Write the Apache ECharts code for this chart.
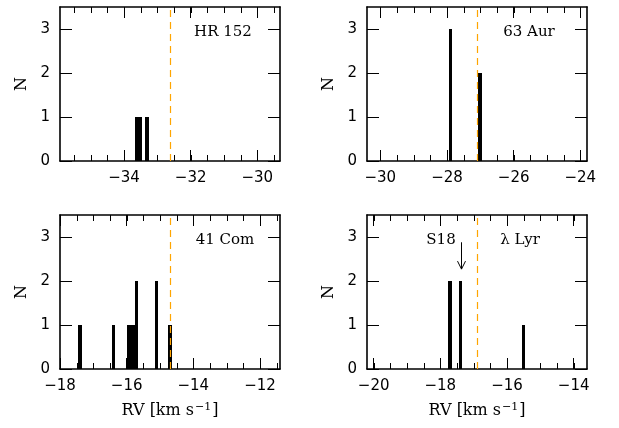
<!DOCTYPE html>
<html><head><meta charset="utf-8">
<script src="https://cdn.jsdelivr.net/npm/echarts@6/dist/echarts.min.js"></script>
<style>html,body{margin:0;padding:0;background:#fff}#c{width:619px;height:428px}</style>
</head><body><div id="c"></div>
<script>
// ---- data ----
const panelNames = ['HR 152', '63 Aur', '41 Com', 'λ Lyr'];
const binCenters1 = [-33.62, -33.51, -33.31];
const binCounts1  = [1, 1, 1];
const binCenters2 = [-27.90, -27.00];
const binCounts2  = [3, 2];
const binCenters3 = [-17.41, -16.40, -15.93, -15.82, -15.71, -15.10, -14.70];
const binCounts3  = [1, 1, 1, 1, 2, 2, 1];
const binCenters4 = [-17.71, -17.40, -15.51];
const binCounts4  = [2, 2, 1];
const refRV = [-32.62, -27.09, -14.70, -16.90];
const xMin = [-35.92, -30.40, -18.00, -20.20];
const xMax = [-29.32, -23.80, -11.40, -13.60];
const xMajorTicks = [[-34, -32, -30], [-30, -28, -26, -24], [-18, -16, -14, -12], [-20, -18, -16, -14]];
const xMinorStep = 0.5;
const yTickValues = [0, 1, 2, 3];
const yMax = 3.5;
const binWidth = 0.11;
const s18Label = 'S18';
const s18Arrow = [-17.38, 2.88, 2.27]; // x, y from, y to
const xTitle = 'RV [km s{sup|\u22121}]';
const yTitle = 'N';

const binCenters = [binCenters1, binCenters2, binCenters3, binCenters4];
const binCounts = [binCounts1, binCounts2, binCounts3, binCounts4];

// ---- layout ----
const grids = [
  {left: 60, top: 7, width: 220, height: 154},
  {left: 367, top: 7, width: 220, height: 154},
  {left: 60, top: 215, width: 220, height: 154},
  {left: 367, top: 215, width: 220, height: 154}
];
const labelPos = [[223, 32], [529, 32], [225, 240], [520, 240]];
const s18Pos = [441, 240];

const black = '#000';
const tickFont = {fontFamily: 'DejaVu Sans', fontSize: 15, color: black};
const titleFont = {fontFamily: 'DejaVu Serif', fontSize: 16, lineHeight: 18, color: black,
  rich: {sup: {fontFamily: 'DejaVu Serif', fontSize: 11, lineHeight: 11, verticalAlign: 'top', padding: [0, 1, 0, 1]}}};

function minorTicks(mn, mx) {
  const out = [];
  for (let v = Math.ceil(mn / xMinorStep) * xMinorStep; v <= mx + 1e-9; v += xMinorStep) out.push(Math.round(v * 10) / 10);
  return out;
}
const fmt = v => (v < 0 ? '\u2212' + Math.abs(v) : String(v));
const r3 = v => Math.round(v * 1000) / 1000;

const xAxes = [], yAxes = [], series = [];
for (let i = 0; i < 4; i++) {
  const base = {gridIndex: i, type: 'value', min: xMin[i], max: xMax[i], splitLine: {show: false}};
  const line = {show: true, onZero: false, lineStyle: {color: black, width: 1.6}};
  xAxes.push(Object.assign({}, base, {
    position: 'bottom', axisLine: line,
    axisTick: {show: true, inside: true, length: 11, customValues: xMajorTicks[i], lineStyle: {color: black, width: 1}},
    axisLabel: {show: true, customValues: xMajorTicks[i], formatter: fmt, margin: 10, ...tickFont},
    name: i >= 2 ? xTitle : '', nameLocation: 'middle', nameGap: 33, nameTextStyle: titleFont
  }));
  xAxes.push(Object.assign({}, base, {
    position: 'top', axisLine: line,
    axisTick: {show: true, inside: true, length: 11, customValues: xMajorTicks[i], lineStyle: {color: black, width: 1}},
    axisLabel: {show: false}
  }));
  const ybase = {gridIndex: i, type: 'value', min: 0, max: yMax, splitLine: {show: false}};
  yAxes.push(Object.assign({}, ybase, {
    position: 'left', axisLine: line,
    axisTick: {show: true, inside: true, length: 12, customValues: yTickValues, lineStyle: {color: black, width: 1}},
    axisLabel: {show: true, customValues: yTickValues, margin: 10, ...tickFont},
    name: yTitle, nameLocation: 'middle', nameGap: 30, nameRotate: 90, nameTextStyle: {fontFamily: 'DejaVu Serif', fontSize: 16, color: black}
  }));
  yAxes.push(Object.assign({}, ybase, {
    position: 'right', axisLine: line,
    axisTick: {show: true, inside: true, length: 12, customValues: yTickValues, lineStyle: {color: black, width: 1}},
    axisLabel: {show: false}
  }));
  // minor ticks on bottom and top edges, placed through the axis scale
  series.push({
    type: 'custom', xAxisIndex: 2 * i, yAxisIndex: 2 * i, silent: true, z: 1, clip: false,
    data: minorTicks(xMin[i], xMax[i]).map(v => [v]),
    renderItem: function (params, api) {
      const a = api.coord([api.value(0), 0]);
      const b = api.coord([api.value(0), yMax]);
      const x = Math.round(a[0]) + 0.5;
      const st = {stroke: black, lineWidth: 1};
      return {type: 'group', children: [
        {type: 'line', shape: {x1: x, y1: a[1], x2: x, y2: a[1] - 6}, style: st},
        {type: 'line', shape: {x1: x, y1: b[1], x2: x, y2: b[1] + 6}, style: st}
      ]};
    }
  });
  series.push({
    type: 'custom', xAxisIndex: 2 * i, yAxisIndex: 2 * i, silent: true, z: 2,
    data: binCenters[i].map((c, k) => [c, binCounts[i][k]]),
    renderItem: function (params, api) {
      const c = api.value(0), n = api.value(1);
      const p0 = api.coord([r3(c - binWidth / 2), n]);
      const p1 = api.coord([r3(c + binWidth / 2), 0]);
      const x0 = Math.round(p0[0]), x1 = Math.round(p1[0]);
      const y0 = Math.round(p0[1]), y1 = Math.round(p1[1]);
      return {type: 'rect', shape: {x: x0, y: y0, width: x1 - x0, height: y1 - y0},
        style: {fill: black}};
    },
    markLine: {
      silent: true, symbol: ['none', 'none'], label: {show: false}, animation: false, z: 10,
      lineStyle: {color: '#FFA500', type: [7, 5], width: 1.2},
      data: [{xAxis: refRV[i]}]
    }
  });
}
// S18 arrow
series.push({
  type: 'custom', xAxisIndex: 6, yAxisIndex: 6, silent: true, z: 3,
  data: [s18Arrow],
  renderItem: function (params, api) {
    const a = api.coord([api.value(0), api.value(1)]);
    const b = api.coord([api.value(0), api.value(2)]);
    const x = Math.round(a[0]) + 0.5;
    const st = {stroke: black, lineWidth: 1, fill: null};
    return {type: 'group', children: [
      {type: 'line', shape: {x1: x, y1: a[1], x2: x, y2: b[1]}, style: st},
      {type: 'polyline', shape: {points: [[x - 4, b[1] - 8], [x, b[1]], [x + 4, b[1] - 8]]}, style: st}
    ]};
  }
});

const graphics = panelNames.map((t, i) => ({
  type: 'text', x: labelPos[i][0], y: labelPos[i][1],
  style: {text: t, fontFamily: 'DejaVu Serif', fontSize: 15, fill: black, textAlign: 'center', textVerticalAlign: 'middle'}
}));
graphics.push({type: 'text', x: s18Pos[0], y: s18Pos[1],
  style: {text: s18Label, fontFamily: 'DejaVu Serif', fontSize: 15, fill: black, textAlign: 'center', textVerticalAlign: 'middle'}});

const chart = echarts.init(document.getElementById('c'), null, {renderer: 'canvas'});
chart.setOption({
  animation: false,
  backgroundColor: '#fff',
  grid: grids.map(g => Object.assign({containLabel: false}, g)),
  xAxis: xAxes, yAxis: yAxes, series: series, graphic: graphics
});
</script></body></html>
